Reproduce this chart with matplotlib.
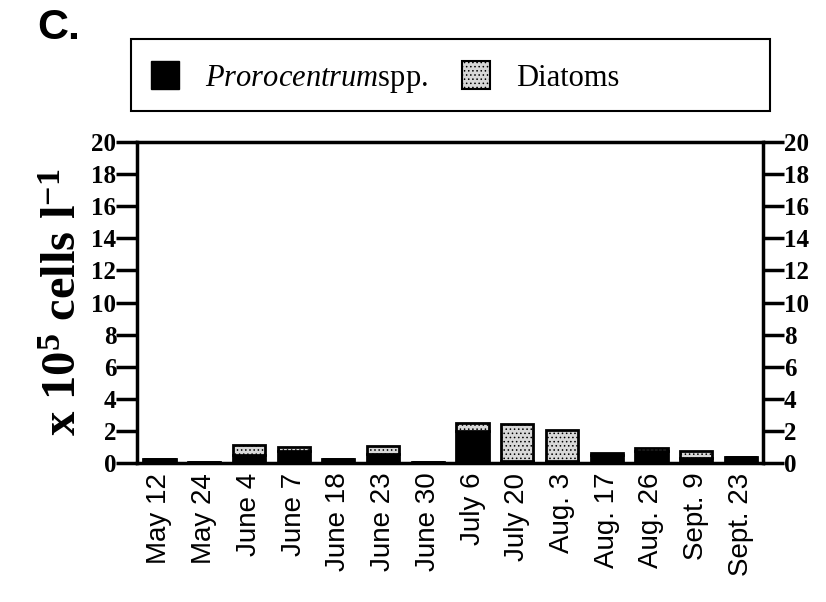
import matplotlib
matplotlib.use("Agg")
import matplotlib.pyplot as plt
from matplotlib.patches import Rectangle, Patch
import numpy as np

# sampling dates and cell counts (x 10^5 cells/l)
dates = ["May 12", "May 24", "June 4", "June 7", "June 18", "June 23", "June 30",
         "July 6", "July 20", "Aug. 3", "Aug. 17", "Aug. 26", "Sept. 9", "Sept. 23"]
prorocentrum = [0.25, 0.08, 0.5, 0.75, 0.22, 0.58, 0.05, 2.0, 0.1, 0.1, 0.5, 0.75, 0.28, 0.35]
diatoms = [0.0, 0.0, 0.6, 0.22, 0.0, 0.45, 0.0, 0.52, 2.35, 1.95, 0.14, 0.16, 0.44, 0.0]
yticks = [0, 2, 4, 6, 8, 10, 12, 14, 16, 18, 20]

plt.rcParams['mathtext.fontset'] = 'custom'
plt.rcParams['mathtext.rm'] = 'Liberation Serif:bold'
plt.rcParams['mathtext.bf'] = 'Liberation Serif:bold'
plt.rcParams['mathtext.it'] = 'Liberation Serif:italic'
plt.rcParams['hatch.linewidth'] = 0.6
plt.rcParams['hatch.color'] = '#9a9a9a'

fig = plt.figure(figsize=(8.26, 6.02), dpi=100)
ax = fig.add_axes([0.166, 0.231, 0.758, 0.533])

x = np.arange(len(dates))
ax.bar(x, prorocentrum, width=0.72, color='black', edgecolor='black', linewidth=2)
ax.bar(x, diatoms, width=0.72, bottom=prorocentrum, color='#d8d8d8',
       edgecolor='black', linewidth=2, hatch='....')

ax.set_xlim(-0.5, len(dates) - 0.5)
ax.set_ylim(0, 20)
ax.set_xticks(x)
ax.set_xticklabels(dates, rotation=90, fontsize=20, family='Liberation Sans')
ax.tick_params(axis='x', length=0, pad=7)
ax.set_yticks(yticks)
ax.tick_params(axis='y', which='both', direction='out', length=15, width=2.5,
               left=True, right=True, labelleft=True, labelright=True, pad=0)
for lab in ax.get_yticklabels():
    lab.set_family('Liberation Serif')
    lab.set_fontweight('bold')
    lab.set_fontsize(18)
for sp in ax.spines.values():
    sp.set_linewidth(2.5)

ax.set_ylabel(r'x 10$^{\mathbf{5}}$ cells l$^{\mathbf{-1}}$', family='Liberation Serif',
              fontweight='bold', fontsize=35, labelpad=4)

# legend box
fig.patches.append(Rectangle((131 / 826, 1 - 111 / 602), (770 - 131) / 826, 72 / 602,
                             transform=fig.transFigure, fill=False, edgecolor='black',
                             linewidth=1.5))
handles = [Patch(facecolor='black', edgecolor='black'),
           Patch(facecolor='#d8d8d8', edgecolor='black', hatch='....', linewidth=1.5)]
fig.legend(handles, [r'$\mathit{Prorocentrum}$spp.', 'Diatoms'], ncol=2,
           loc='center left', bbox_to_anchor=(151 / 826, 1 - 78 / 602), frameon=False,
           prop={'family': 'Liberation Serif', 'size': 22}, handlelength=0.92,
           handleheight=1.0, columnspacing=1.1, handletextpad=0.85,
           borderpad=0, borderaxespad=0)

fig.text(37 / 826, 1 - 28 / 602, 'C.', family='Liberation Sans', fontweight='bold',
         fontsize=31, va='center', ha='left')

fig.savefig('out.png', dpi=100)
